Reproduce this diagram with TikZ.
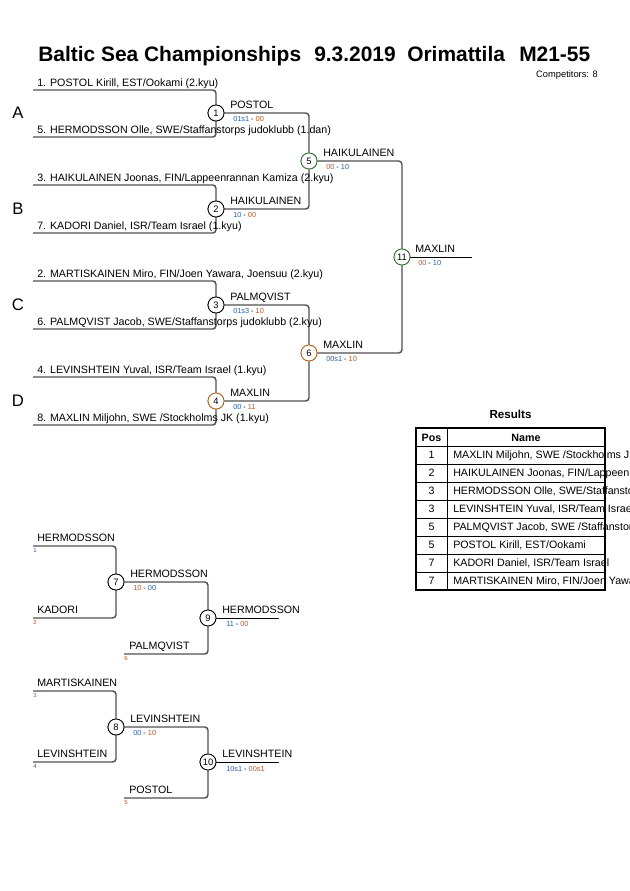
\documentclass[tikz,border=0pt]{standalone}
\usepackage{fontspec}
\setmainfont{Liberation Sans}
\definecolor{linec}{RGB}{80,80,80}
\definecolor{scA}{RGB}{40,95,170}
\definecolor{scB}{RGB}{185,85,35}
\definecolor{ringG}{RGB}{50,110,50}
\definecolor{ringO}{RGB}{170,100,30}
\begin{document}
\begin{tikzpicture}[x=0.75pt,y=-0.75pt,
  br/.style={draw=linec, line width=1.1pt, rounded corners=2.5pt},
  outl/.style={draw=black, line width=0.6pt},
  mc/.style={circle, draw=black, line width=0.6pt, fill=white, inner sep=0pt, minimum size=12pt, font=\fontsize{7}{8}\selectfont},
  ent/.style={anchor=base west, inner sep=0pt, font=\fontsize{8}{9}\selectfont},
  sc/.style={anchor=west, inner sep=0pt, font=\fontsize{5.5}{6}\selectfont},
  tiny/.style={anchor=north west, inner sep=0pt, font=\fontsize{4.5}{5}\selectfont},
  pool/.style={anchor=center, inner sep=0pt, font=\fontsize{12.5}{14}\selectfont},
  ttl/.style={anchor=base west, inner sep=0pt, font=\fontsize{15.7}{18}\selectfont\bfseries},
  tcell/.style={anchor=base west, inner sep=0pt, font=\fontsize{8}{9}\selectfont},
  tpos/.style={anchor=base, inner sep=0pt, font=\fontsize{8}{9}\selectfont}
]
\useasboundingbox (0,0) rectangle (630,891);
\fill[white] (0,0) rectangle (630,891);

% ---------- title ----------
\node[ttl] (t1) at (38,62) {Baltic Sea Championships};
\node[ttl] (t2) at (314,62) {9.3.2019};
\node[ttl] (t3) at (407,62) {Orimattila};
\node[ttl] (t4) at (519,62) {M21-55};
\node[anchor=base east, inner sep=0pt, font=\fontsize{7}{8}\selectfont] (comp) at (598,78) {Competitors: 8};

% ---------- pool letters ----------
\node[pool] (pA) at (18,113) {A};
\node[pool] (pB) at (18,209) {B};
\node[pool] (pC) at (18,305) {C};
\node[pool] (pD) at (18,401) {D};

% ---------- entry coordinates ----------
\coordinate (e1) at (33,90);
\coordinate (e5) at (33,137);
\coordinate (e3) at (33,185);
\coordinate (e7) at (33,233);
\coordinate (e2) at (33,281);
\coordinate (e6) at (33,329);
\coordinate (e4) at (33,377);
\coordinate (e8) at (33,425);
\coordinate (f11) at (472,257);

% ---------- match circles ----------
\node[mc] (m1) at (216,113) {1};
\node[mc] (m2) at (216,209) {2};
\node[mc] (m3) at (216,305) {3};
\node[mc, draw=ringO] (m4) at (216,401) {4};
\node[mc, draw=ringG] (m5) at (309,161) {5};
\node[mc, draw=ringO] (m6) at (309,353) {6};
\node[mc, draw=ringG] (m11) at (402,257) {11};

% ---------- connectors (main) ----------
\draw[br] (e1) -| (m1.north);
\draw[br] (e5) -| (m1.south);
\draw[br] (e3) -| (m2.north);
\draw[br] (e7) -| (m2.south);
\draw[br] (e2) -| (m3.north);
\draw[br] (e6) -| (m3.south);
\draw[br] (e4) -| (m4.north);
\draw[br] (e8) -| (m4.south);
\draw[br] (m1.east) -| (m5.north);
\draw[br] (m2.east) -| (m5.south);
\draw[br] (m3.east) -| (m6.north);
\draw[br] (m4.east) -| (m6.south);
\draw[br] (m5.east) -| (m11.north);
\draw[br] (m6.east) -| (m11.south);
\draw[outl] (m11.east) -- (f11);
% redraw circles on top
\node[mc] at (m1) {1};
\node[mc] at (m2) {2};
\node[mc] at (m3) {3};
\node[mc, draw=ringO] at (m4) {4};
\node[mc, draw=ringG] at (m5) {5};
\node[mc, draw=ringO] at (m6) {6};
\node[mc, draw=ringG] at (m11) {11};

% ---------- entry labels ----------
\node[ent] (l1) at (37,86.5) {1. POSTOL Kirill, EST/Ookami (2.kyu)};
\node[ent] (l5) at (37,133.5) {5. HERMODSSON Olle, SWE/Staffanstorps judoklubb (1.dan)};
\node[ent] (l3) at (37,181.5) {3. HAIKULAINEN Joonas, FIN/Lappeenrannan Kamiza (2.kyu)};
\node[ent] (l7) at (37,229.5) {7. KADORI Daniel, ISR/Team Israel (1.kyu)};
\node[ent] (l2) at (37,277.5) {2. MARTISKAINEN Miro, FIN/Joen Yawara, Joensuu (2.kyu)};
\node[ent] (l6) at (37,325.5) {6. PALMQVIST Jacob, SWE/Staffanstorps judoklubb (2.kyu)};
\node[ent] (l4) at (37,373.5) {4. LEVINSHTEIN Yuval, ISR/Team Israel (1.kyu)};
\node[ent] (l8) at (37,421.5) {8. MAXLIN Miljohn, SWE /Stockholms JK (1.kyu)};

% ---------- winners and scores ----------
\node[ent] (w1) at (230,108.5) {POSTOL};
\node[sc] (s1) at (233,119) {\textcolor{scA}{01s1} - \textcolor{scB}{00}};
\node[ent] (w2) at (230,204.5) {HAIKULAINEN};
\node[sc] (s2) at (233,215) {\textcolor{scA}{10} - \textcolor{scB}{00}};
\node[ent] (w3) at (230,300.5) {PALMQVIST};
\node[sc] (s3) at (233,311) {\textcolor{scA}{01s3} - \textcolor{scB}{10}};
\node[ent] (w4) at (230,396.5) {MAXLIN};
\node[sc] (s4) at (233,407) {\textcolor{scA}{00} - \textcolor{scB}{11}};
\node[ent] (w5) at (323,156.5) {HAIKULAINEN};
\node[sc] (s5) at (326,167) {\textcolor{scB}{00} - \textcolor{scA}{10}};
\node[ent] (w6) at (323,348.5) {MAXLIN};
\node[sc] (s6) at (326,359) {\textcolor{scA}{00s1} - \textcolor{scB}{10}};
\node[ent] (w11) at (415,252.5) {MAXLIN};
\node[sc] (s11) at (418,263) {\textcolor{scB}{00} - \textcolor{scA}{10}};

% ---------- results table ----------
\node[anchor=base, inner sep=0pt, font=\fontsize{8.7}{10}\selectfont\bfseries] (res) at (510.5,418) {Results};
\draw[black, line width=0.5pt] (416,446) -- (605,446);
\foreach \yy in {464,482,500,518,536,554,572} {
  \draw[black, line width=0.5pt] (416,\yy) -- (605,\yy);
}
\draw[black, line width=0.5pt] (447,428) -- (447,590);
\node[tpos, font=\fontsize{8}{9}\selectfont\bfseries] (hpos) at (431.5,441) {Pos};
\node[tpos, font=\fontsize{8}{9}\selectfont\bfseries] (hname) at (526,441) {Name};
\begin{scope}
\clip (0,0) rectangle (630,891);
\foreach \i/\p/\n in {0/1/{MAXLIN Miljohn, SWE /Stockholms JK},
                      1/2/{HAIKULAINEN Joonas, FIN/Lappeenrannan Kamiza},
                      2/3/{HERMODSSON Olle, SWE/Staffanstorps judoklubb},
                      3/3/{LEVINSHTEIN Yuval, ISR/Team Israel},
                      4/5/{PALMQVIST Jacob, SWE /Staffanstorps judoklubb},
                      5/5/{POSTOL Kirill, EST/Ookami},
                      6/7/{KADORI Daniel, ISR/Team Israel},
                      7/7/{MARTISKAINEN Miro, FIN/Joen Yawara, Joensuu}} {
  \node[tpos] (rp\i) at (431.5,458+18*\i) {\p};
  \node[tcell] (rn\i) at (453,458+18*\i) {\n};
}
\end{scope}
\draw[black, line width=1.2pt] (416,428) rectangle (605,590);

% ---------- repechage 1 ----------
\coordinate (r1) at (33,546);
\coordinate (r2) at (33,618);
\coordinate (r6) at (124,654);
\coordinate (f9) at (279,618);
\node[mc] (m7) at (116,582) {7};
\node[mc] (m9) at (208,618) {9};
\draw[br] (r1) -| (m7.north);
\draw[br] (r2) -| (m7.south);
\draw[br] (m7.east) -| (m9.north);
\draw[br] (r6) -| (m9.south);
\draw[outl] (m9.east) -- (f9);
\node[mc] at (m7) {7};
\node[mc] at (m9) {9};
\node[ent] (b1) at (37,541.5) {HERMODSSON};
\node[tiny, text=scA] (n1) at (33,548) {1};
\node[ent] (b2) at (37,613.5) {KADORI};
\node[tiny, text=scB] (n2) at (33,620) {2};
\node[ent] (b6) at (129,649.5) {PALMQVIST};
\node[tiny, text=scB] (n6) at (124,656) {6};
\node[ent] (w7) at (130,577.5) {HERMODSSON};
\node[sc] (s7) at (133,588) {\textcolor{scB}{10} - \textcolor{scA}{00}};
\node[ent] (w9) at (222,613.5) {HERMODSSON};
\node[sc] (s9) at (226,624) {\textcolor{scA}{11} - \textcolor{scB}{00}};

% ---------- repechage 2 ----------
\coordinate (r3) at (33,691);
\coordinate (r4) at (33,762);
\coordinate (r5) at (124,798);
\coordinate (f10) at (279,762);
\node[mc] (m8) at (116,727) {8};
\node[mc] (m10) at (208,762) {10};
\draw[br] (r3) -| (m8.north);
\draw[br] (r4) -| (m8.south);
\draw[br] (m8.east) -| (m10.north);
\draw[br] (r5) -| (m10.south);
\draw[outl] (m10.east) -- (f10);
\node[mc] at (m8) {8};
\node[mc] at (m10) {10};
\node[ent] (b3) at (37,686.5) {MARTISKAINEN};
\node[tiny, text=scB] (n3) at (33,693) {3};
\node[ent] (b4) at (37,757.5) {LEVINSHTEIN};
\node[tiny, text=scA] (n4) at (33,764) {4};
\node[ent] (b5) at (129,793.5) {POSTOL};
\node[tiny, text=scB] (n5) at (124,800) {5};
\node[ent] (w8) at (130,722.5) {LEVINSHTEIN};
\node[sc] (s8) at (133,733) {\textcolor{scA}{00} - \textcolor{scB}{10}};
\node[ent] (w10) at (222,757.5) {LEVINSHTEIN};
\node[sc] (s10) at (226,769) {\textcolor{scA}{10s1} - \textcolor{scB}{00s1}};
\end{tikzpicture}
\end{document}
